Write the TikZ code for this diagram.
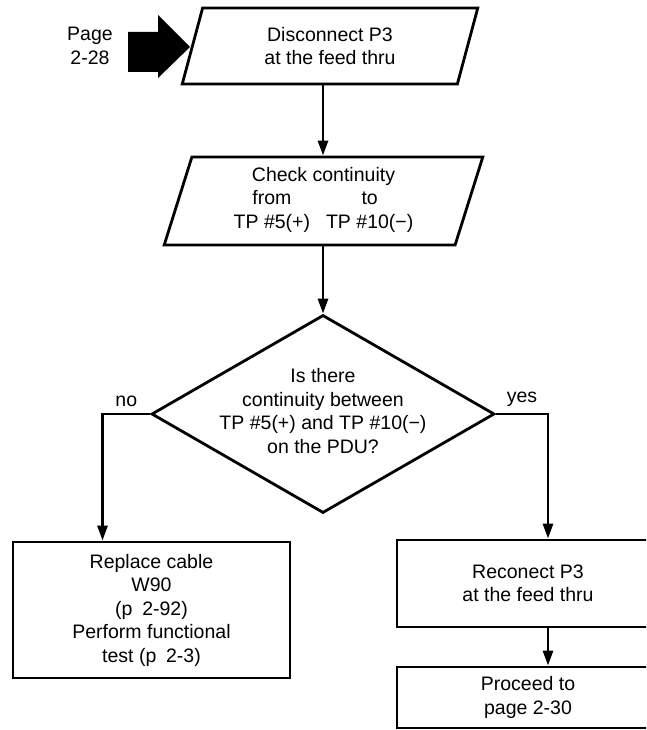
\documentclass[tikz,border=0pt]{standalone}
\usepackage{fontspec}
\setmainfont{Liberation Sans}
\usetikzlibrary{shapes.geometric,arrows.meta}
\begin{document}
\begin{tikzpicture}[x=1pt,y=-1pt,line width=2.8pt,
  every node/.style={font=\fontsize{19.5}{23.5}\selectfont,align=center},
  para/.style={draw,trapezium,trapezium left angle=74.5,trapezium right angle=105.5,trapezium stretches=true,inner sep=0pt},
  box/.style={draw,rectangle,inner sep=0pt},
  flow/.style={-{Triangle[length=15pt,width=10pt]}}]
\useasboundingbox (0,0) rectangle (646,730);
\clip (0,0) rectangle (646,730);
\fill (128,32) -- (158,32) -- (158,15) -- (190,47) -- (158,78) -- (158,72) -- (128,72) -- cycle;
\node (page) at (90,46) {Page\\2-28};
\node[para,minimum width=296pt,minimum height=76pt] (disc) at (330,46) {Disconnect P3\\at the feed thru};
\node[para,minimum width=319pt,minimum height=88pt] (check) at (323.5,201) {Check continuity\\\begin{tabular}[t]{@{}c@{\hspace{16pt}}c@{}}from & to\\TP \#5(+) & TP \#10(−)\end{tabular}};
\node[draw,diamond,minimum width=343pt,minimum height=198pt,inner sep=0pt] (diam) at (323,414) {};
\node (ask) at (323,411) {Is there\\continuity between\\TP \#5(+) and TP \#10(−)\\on the PDU?};
\node[box,minimum width=277pt,minimum height=136pt] (repl) at (151.5,610) {Replace cable\\W90\\(p\enspace2-92)\\Perform functional\\test (p\enspace2-3)};
\node[box,minimum width=262pt,minimum height=87pt] (reco) at (528,583.5) {Reconect P3\\at the feed thru};
\node[box,minimum width=262pt,minimum height=61pt] (proc) at (528,697.5) {Proceed to\\page 2-30};
\draw[flow] (disc.south -| diam.north) -- (check.north -| diam.north);
\draw[flow] (check.south -| diam.north) -- (diam.north);
\draw[flow] (diam.west) -| node[pos=0.25,above=3pt] (nolbl) {no} ([xshift=-49pt]repl.north);
\draw[flow] (diam.east) -| node[pos=0.25,above=3pt] (yeslbl) {yes} ([xshift=20pt]reco.north);
\draw[flow] ([xshift=20pt]reco.south) -- ([xshift=20pt]proc.north);
\end{tikzpicture}
\end{document}
